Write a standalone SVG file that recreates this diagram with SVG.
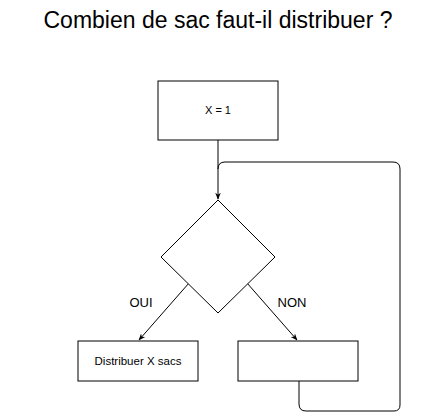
<svg xmlns="http://www.w3.org/2000/svg" width="441" height="420" viewBox="0 0 441 420">
<style>
.box{fill:#fff;stroke:#000;stroke-width:1}
.edge{fill:none;stroke:#000;stroke-width:1}
.t{font-family:"Liberation Sans",Arial,sans-serif;fill:#000}
</style>
<defs>
<marker id="arr" viewBox="0 0 10 10" refX="9" refY="5" markerWidth="7" markerHeight="7" orient="auto" markerUnits="userSpaceOnUse">
<path d="M0,1 L10,5 L0,9 L3,5 Z" fill="#000"/>
</marker>
</defs>
<rect width="441" height="420" fill="#fff"/>
<text class="t" x="218" y="28" font-size="23" text-anchor="middle">Combien de sac faut-il distribuer ?</text>
<g id="edges">
<path class="edge" d="M218,140 L218,199" marker-end="url(#arr)"/>
<path class="edge" d="M189,283 L139,340" marker-end="url(#arr)"/>
<path class="edge" d="M247,283 L297,340" marker-end="url(#arr)"/>
<path class="edge" d="M299,381 L299,404 Q299,411 306,411 L394,411 Q400,411 400,405 L400,169 Q400,162 393,162 L225,162 Q218,162 218,169"/>
<text class="t" x="141" y="307" font-size="13" text-anchor="middle">OUI</text>
<text class="t" x="292" y="307" font-size="13" text-anchor="middle">NON</text>
</g>
<g id="start">
<rect class="box" x="158" y="81" width="120" height="59"/>
<text class="t" x="218" y="114" font-size="11" text-anchor="middle">X = 1</text>
</g>
<g id="decision">
<path class="box" d="M218,200 L275,257 L218,313 L161,257 Z"/>
</g>
<g id="oui">
<rect class="box" x="78" y="341" width="120" height="40"/>
<text class="t" x="138" y="365" font-size="11.5" text-anchor="middle">Distribuer X sacs</text>
</g>
<g id="non">
<rect class="box" x="238" y="341" width="120" height="40"/>
</g>
</svg>
